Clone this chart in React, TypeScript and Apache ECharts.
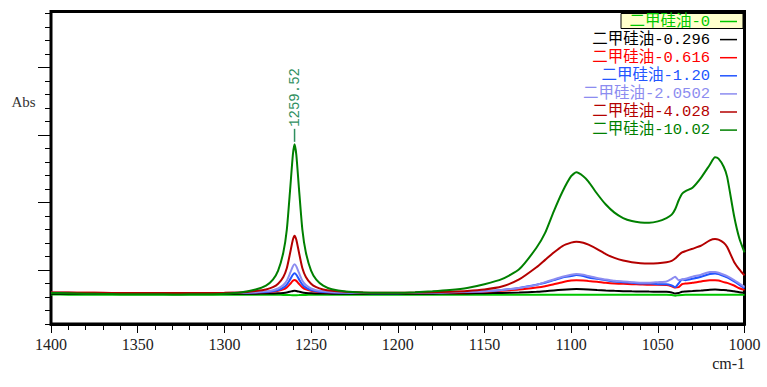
import React, { useEffect, useRef } from "react";
import * as echarts from "echarts";

const wavenumbers = [
  1400, 1390, 1380, 1370, 1360, 1350, 1340, 1330, 1320, 1310, 1300, 1290,
  1282, 1276, 1272, 1269, 1266, 1264, 1262, 1260.5, 1259.52, 1258.5, 1257, 1255, 1253, 1250, 1247, 1243, 1238, 1230,
  1220, 1210, 1200, 1190, 1180, 1170, 1160, 1150, 1140, 1130,
  1120, 1115, 1110, 1105, 1100, 1097, 1093, 1090, 1085, 1080,
  1075, 1070, 1065, 1060, 1055, 1050, 1045, 1042, 1040, 1038,
  1036, 1034, 1030, 1025, 1020, 1017, 1015, 1012, 1010, 1006,
  1003, 1000,
];

const seriesNames = [
  "二甲硅油-0",
  "二甲硅油-0.296",
  "二甲硅油-0.616",
  "二甲硅油-1.20",
  "二甲硅油-2.0502",
  "二甲硅油-4.028",
  "二甲硅油-10.02",
];

const seriesColors = ["#00c800", "#000000", "#ff0000", "#2255ff", "#8c8cf0", "#b40000", "#008000"];

const abs0 = [
  0.0036, 0.0035, 0.0034, 0.0034, 0.0033, 0.0033, 0.0033, 0.0033, 0.0033, 0.0033, 0.0033, 0.0033,
  0.0033, 0.0033, 0.0032, 0.0032, 0.0031, 0.003, 0.0028, 0.0027, 0.0027, 0.0027, 0.0028, 0.003, 0.0031, 0.0032, 0.0032, 0.0033, 0.0033, 0.0033,
  0.0033, 0.0033, 0.0033, 0.0033, 0.0033, 0.0033, 0.0033, 0.0033, 0.0033, 0.0033,
  0.0033, 0.0033, 0.0033, 0.0033, 0.0033, 0.0033, 0.0033, 0.0033, 0.0033, 0.0033,
  0.0033, 0.0033, 0.0033, 0.0033, 0.0033, 0.0033, 0.0033, 0.0029, 0.002, 0.0026,
  0.0031, 0.0033, 0.0033, 0.0033, 0.0033, 0.0033, 0.0033, 0.0033, 0.0033, 0.0033,
  0.0033, 0.0033,
];

const abs0296 = [
  0.005, 0.005, 0.0049, 0.0049, 0.0048, 0.0048, 0.0048, 0.0048, 0.0048, 0.0048, 0.0049, 0.005,
  0.005, 0.0051, 0.0053, 0.0055, 0.0061, 0.0067, 0.008, 0.009, 0.0093, 0.009, 0.008, 0.0067, 0.0061, 0.0055, 0.0053, 0.0051, 0.005, 0.0049,
  0.0048, 0.0048, 0.0048, 0.0049, 0.005, 0.0051, 0.0053, 0.0056, 0.006, 0.0067,
  0.0078, 0.0087, 0.0097, 0.0107, 0.0115, 0.0118, 0.0116, 0.0112, 0.0104, 0.0097,
  0.0091, 0.0087, 0.0084, 0.0082, 0.008, 0.0079, 0.0077, 0.0068, 0.0052, 0.0058,
  0.0078, 0.0082, 0.0088, 0.0097, 0.0108, 0.011, 0.0109, 0.0104, 0.0098, 0.0085,
  0.0072, 0.0062,
];

const abs0616 = [
  0.0064, 0.0063, 0.0062, 0.0061, 0.006, 0.006, 0.006, 0.0059, 0.0059, 0.006, 0.0061, 0.0063,
  0.0067, 0.0072, 0.0079, 0.0091, 0.0114, 0.0143, 0.0196, 0.0239, 0.0252, 0.0239, 0.0196, 0.0143, 0.0114, 0.0091, 0.0079, 0.0072, 0.0067, 0.0064,
  0.0061, 0.006, 0.006, 0.0061, 0.0063, 0.0066, 0.0071, 0.0078, 0.0092, 0.011,
  0.014, 0.016, 0.019, 0.022, 0.0245, 0.025, 0.0245, 0.0237, 0.0225, 0.021,
  0.02, 0.0195, 0.019, 0.0185, 0.018, 0.018, 0.0178, 0.016, 0.014, 0.0145,
  0.019, 0.02, 0.021, 0.023, 0.025, 0.025, 0.0245, 0.022, 0.021, 0.017,
  0.013, 0.0105,
];

const abs120 = [
  0.0058, 0.0058, 0.0057, 0.0057, 0.0056, 0.0056, 0.0055, 0.0055, 0.0055, 0.0056, 0.0057, 0.006,
  0.0066, 0.0074, 0.0086, 0.0103, 0.0139, 0.0183, 0.0265, 0.033, 0.0351, 0.033, 0.0265, 0.0183, 0.0139, 0.0103, 0.0086, 0.0074, 0.0067, 0.0062,
  0.0058, 0.0057, 0.0057, 0.006, 0.0064, 0.007, 0.0077, 0.0087, 0.0105, 0.0135,
  0.018, 0.021, 0.025, 0.029, 0.031, 0.0325, 0.031, 0.029, 0.027, 0.025,
  0.023, 0.022, 0.021, 0.02, 0.02, 0.019, 0.019, 0.017, 0.0145, 0.02,
  0.026, 0.025, 0.027, 0.03, 0.034, 0.035, 0.034, 0.031, 0.029, 0.023,
  0.018, 0.013,
];

const abs20502 = [
  0.0062, 0.0062, 0.006, 0.006, 0.0058, 0.0058, 0.0058, 0.0056, 0.0056, 0.0058, 0.006, 0.0064,
  0.0072, 0.0084, 0.0101, 0.0126, 0.0177, 0.0241, 0.036, 0.0454, 0.0484, 0.0454, 0.036, 0.0241, 0.0177, 0.0126, 0.0101, 0.0084, 0.0073, 0.0067,
  0.0062, 0.006, 0.006, 0.0062, 0.0065, 0.007, 0.0076, 0.0086, 0.0105, 0.0135,
  0.018, 0.022, 0.026, 0.03, 0.033, 0.034, 0.033, 0.031, 0.028, 0.026,
  0.024, 0.023, 0.022, 0.021, 0.021, 0.022, 0.023, 0.027, 0.03, 0.025,
  0.026, 0.027, 0.03, 0.033, 0.037, 0.037, 0.036, 0.033, 0.031, 0.025,
  0.02, 0.015,
];

const abs4028 = [
  0.0068, 0.0066, 0.0062, 0.0062, 0.006, 0.006, 0.0058, 0.0058, 0.0058, 0.006, 0.0062, 0.0068,
  0.0089, 0.0111, 0.0145, 0.0196, 0.0297, 0.0425, 0.0662, 0.0849, 0.0908, 0.0849, 0.0662, 0.0425, 0.0297, 0.0196, 0.0145, 0.0111, 0.0091, 0.0077,
  0.0066, 0.0062, 0.0062, 0.0065, 0.007, 0.0078, 0.009, 0.0112, 0.0155, 0.026,
  0.044, 0.055, 0.066, 0.0755, 0.0805, 0.082, 0.0805, 0.0775, 0.071, 0.0635,
  0.058, 0.054, 0.0515, 0.05, 0.0495, 0.05, 0.0515, 0.0535, 0.057, 0.062,
  0.066, 0.068, 0.0715, 0.076, 0.084, 0.086, 0.085, 0.0805, 0.074, 0.052,
  0.041, 0.032,
];

const abs1002 = [
  0.006, 0.0055, 0.0048, 0.0045, 0.0042, 0.004, 0.004, 0.0038, 0.004, 0.0042, 0.005, 0.0072,
  0.0111, 0.0169, 0.0258, 0.0391, 0.0659, 0.0993, 0.1616, 0.2106, 0.2262, 0.2106, 0.1616, 0.0993, 0.0659, 0.0391, 0.0258, 0.0169, 0.0115, 0.008,
  0.0065, 0.0062, 0.0062, 0.007, 0.0085, 0.0105, 0.0135, 0.019, 0.0265, 0.041,
  0.073, 0.095, 0.127, 0.156, 0.179, 0.1847, 0.179, 0.171, 0.153, 0.137,
  0.125, 0.117, 0.1125, 0.1105, 0.11, 0.112, 0.117, 0.122, 0.13, 0.143,
  0.153, 0.157, 0.162, 0.177, 0.196, 0.207, 0.205, 0.193, 0.178, 0.12,
  0.087, 0.066,
];

const seriesValues = [abs0, abs0296, abs0616, abs120, abs20502, abs4028, abs1002];

const peakWavenumber = 1259.52;
const peakLabel = "1259.52";

const yMinorTicks = [
  -0.04, -0.02, 0, 0.02, 0.04, 0.06, 0.08, 0.1, 0.12, 0.14, 0.16, 0.18,
  0.2, 0.22, 0.24, 0.26, 0.28, 0.3, 0.32, 0.34, 0.36, 0.38, 0.4, 0.42,
];
const yMajorTicks = [0.04, 0.14, 0.24, 0.34];

const xTitle = "cm-1";
const yTitle = "Abs";

export default function App() {
  const ref = useRef<HTMLDivElement>(null);

  useEffect(() => {
    if (!ref.current) return;
    const chart = echarts.init(ref.current, null, { renderer: "svg" });

    const peakIdx = wavenumbers.indexOf(peakWavenumber);
    const legendFont = "'Liberation Mono', 'Noto Sans CJK SC', monospace";
    const rowY = (i: number) => 21.5 + i * 18.1;

    const legendGraphics: any[] = [
      {
        type: "rect",
        shape: { x: 621, y: 13.5, width: 122, height: 15 },
        style: { fill: "#ffffcc", stroke: "#000", lineWidth: 1 },
        z: 10,
      },
    ];
    seriesNames.forEach((name, i) => {
      legendGraphics.push({
        type: "text",
        x: 710,
        y: rowY(i),
        style: {
          text: name,
          align: "right",
          verticalAlign: "middle",
          fill: seriesColors[i],
          fontFamily: legendFont,
          fontSize: 15.5,
        },
        z: 11,
      });
      legendGraphics.push({
        type: "line",
        shape: { x1: 720, y1: rowY(i), x2: 737, y2: rowY(i) },
        style: { stroke: seriesColors[i], lineWidth: 1.5 },
        z: 11,
      });
    });

    const series: any[] = seriesNames.map((name, i) => ({
      type: "line",
      name,
      data: wavenumbers.map((w, k) => [w, seriesValues[i][k]]),
      showSymbol: false,
      symbol: "none",
      smooth: 0.2,
      lineStyle: { width: 2, color: seriesColors[i] },
      itemStyle: { color: seriesColors[i] },
      z: 2 + i,
      silent: true,
    }));

    series[6].markPoint = {
      silent: true,
      symbol: "rect",
      symbolSize: [1.5, 13],
      symbolOffset: [0, -9],
      itemStyle: { color: "#2f8f5f" },
      label: {
        show: true,
        position: "top",
        distance: 2,
        rotate: 90,
        align: "left",
        verticalAlign: "middle",
        formatter: peakLabel,
        color: "#2f8f5f",
        fontFamily: "'Liberation Mono', monospace",
        fontSize: 14,
      },
      data: [{ coord: [peakWavenumber, abs1002[peakIdx]] }],
    };

    chart.setOption({
      animation: false,
      backgroundColor: "#ffffff",
      grid: {
        left: 51,
        right: 22.5,
        top: 11.5,
        bottom: 63,
        show: true,
        borderColor: "#000",
        borderWidth: 3,
        backgroundColor: "transparent",
      },
      xAxis: {
        type: "value",
        min: 1000,
        max: 1400,
        interval: 50,
        inverse: true,
        axisLine: { show: true, onZero: false, lineStyle: { color: "#000", width: 3 } },
        axisTick: { show: true, length: 9, lineStyle: { color: "#000", width: 1 } },
        minorTick: { show: true, splitNumber: 5, length: 6, lineStyle: { color: "#000", width: 1 } },
        splitLine: { show: false },
        minorSplitLine: { show: false },
        axisLabel: {
          margin: 12,
          fontFamily: "'Liberation Serif', serif",
          fontSize: 16,
          color: "#222",
          formatter: (v: number) => String(v),
        },
      },
      yAxis: [
        {
          type: "value",
          min: -0.04,
          max: 0.423,
          position: "left",
          axisLine: { show: false, onZero: false },
          axisTick: { show: true, length: 6, customValues: yMinorTicks, lineStyle: { color: "#000", width: 1 } },
          axisLabel: { show: false },
          splitLine: { show: false },
        },
        {
          type: "value",
          min: -0.04,
          max: 0.423,
          position: "left",
          axisLine: { show: false, onZero: false },
          axisTick: { show: true, length: 13, customValues: yMajorTicks, lineStyle: { color: "#000", width: 1 } },
          axisLabel: { show: false },
          splitLine: { show: false },
        },
      ],
      graphic: [
        {
          type: "text",
          left: 11.5,
          top: 94,
          style: {
            text: yTitle,
            fill: "#333",
            fontFamily: "'Liberation Serif', serif",
            fontSize: 15,
          },
        },
        {
          type: "text",
          x: 745,
          y: 363,
          style: {
            text: xTitle,
            align: "right",
            verticalAlign: "middle",
            fill: "#222",
            fontFamily: "'Liberation Serif', serif",
            fontSize: 16,
          },
        },
        ...legendGraphics,
      ],
      series,
    });

    return () => {
      chart.dispose();
    };
  }, []);

  return (
    <div
      ref={ref}
      style={{ position: "fixed", left: 0, top: 0, width: 767, height: 387, background: "#fff" }}
    />
  );
}
